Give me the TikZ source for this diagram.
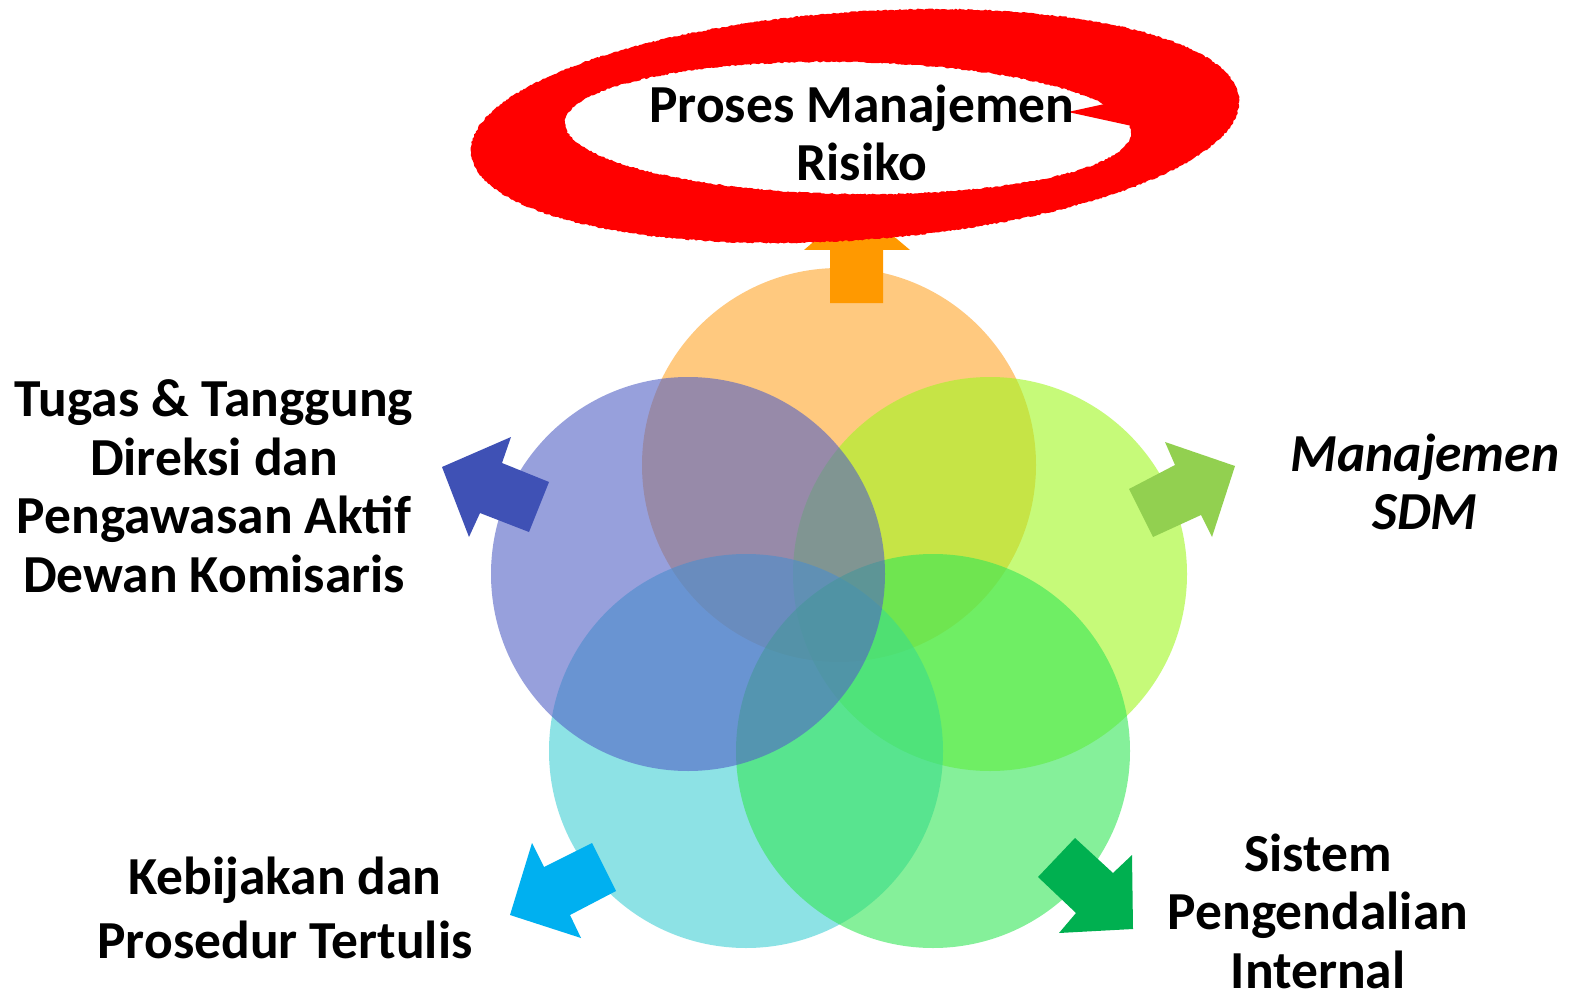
\documentclass[tikz,border=0pt]{standalone}
\usepackage{fontspec}
\setmainfont{Carlito}
\usetikzlibrary{decorations.pathmorphing}
\definecolor{cOrange}{RGB}{255,165,42}
\definecolor{cBlue}{RGB}{82,97,198}
\definecolor{cLime}{RGB}{160,247,33}
\definecolor{cCyan}{RGB}{65,208,213}
\definecolor{cGreen}{RGB}{53,230,87}
\definecolor{aOrange}{RGB}{255,153,0}
\definecolor{aBlue}{RGB}{63,81,181}
\definecolor{aLime}{RGB}{146,208,80}
\definecolor{aCyan}{RGB}{0,176,240}
\definecolor{aGreen}{RGB}{0,176,80}
\definecolor{ringRed}{RGB}{255,0,0}
\begin{document}
\begin{tikzpicture}[x=1pt,y=-1pt,
  venn/.style={circle, minimum size=394pt, inner sep=0pt, draw=none, fill opacity=0.6},
  lbl/.style={font=\bfseries\fontsize{53.5}{58.5}\selectfont, align=center, text=black, inner sep=0pt}]
\useasboundingbox (0,0) rectangle (1571,1000);
\fill[white] (0,0) rectangle (1571,1000);

% overlapping circles
\node[venn, fill=cOrange] (top)   at (839,465) {};
\node[venn, fill=cLime]   (right) at (990,574) {};
\node[venn, fill=cCyan]   (lowl)  at (746,751) {};
\node[venn, fill=cGreen]  (lowr)  at (933,751) {};
\node[venn, fill=cBlue]   (left)  at (688,574) {};

% block arrows
\fill[aOrange] (830,303) -- (883,303) -- (883,250) -- (910,250) -- (856.5,205)
  -- (804,250) -- (830,250) -- cycle;
\fill[aBlue] (549,482) -- (529,532) -- (480,513) -- (469,537) -- (442,467)
  -- (511,437) -- (502,463) -- cycle;
\fill[aLime] (1129,489) -- (1175,465) -- (1165,442) -- (1235,466) -- (1212,537)
  -- (1201,515) -- (1153,537) -- cycle;
\fill[aCyan] (592,843) -- (616,891) -- (570,915) -- (581,938) -- (510,915)
  -- (532,843) -- (544,867) -- cycle;
\fill[aGreen] (1075,838) -- (1113,873) -- (1132,855) -- (1133,929) -- (1059,933)
  -- (1076,913) -- (1038,877) -- cycle;

% red hand-drawn ring
\fill[ringRed, even odd rule, decorate,
      decoration={random steps, segment length=2pt, amplitude=0.7pt}]
  (855,126) ellipse [x radius=385pt, y radius=114pt, rotate=4]
  (848,128) ellipse [x radius=283pt, y radius=66pt, rotate=-1];
\fill[ringRed] (1132,98) -- (1068,112) -- (1132,126) -- cycle;

% labels
\node[lbl] (risk) at (862,133) {Proses Manajemen\\Risiko};
\node[lbl] (board) at (214,486) {Tugas \& Tanggung\\Direksi dan\\Pengawasan Aktif\\Dewan Komisaris};
\node[lbl, font=\bfseries\itshape\fontsize{53.5}{58.5}\selectfont] (hr) at (1425,482) {Manajemen\\SDM};
\node[lbl] (ctrl) at (1318,911) {Sistem\\Pengendalian\\Internal};
\node[lbl, font=\bfseries\fontsize{53.5}{64}\selectfont] (policy) at (285,908) {Kebijakan dan\\Prosedur Tertulis};
\end{tikzpicture}
\end{document}
